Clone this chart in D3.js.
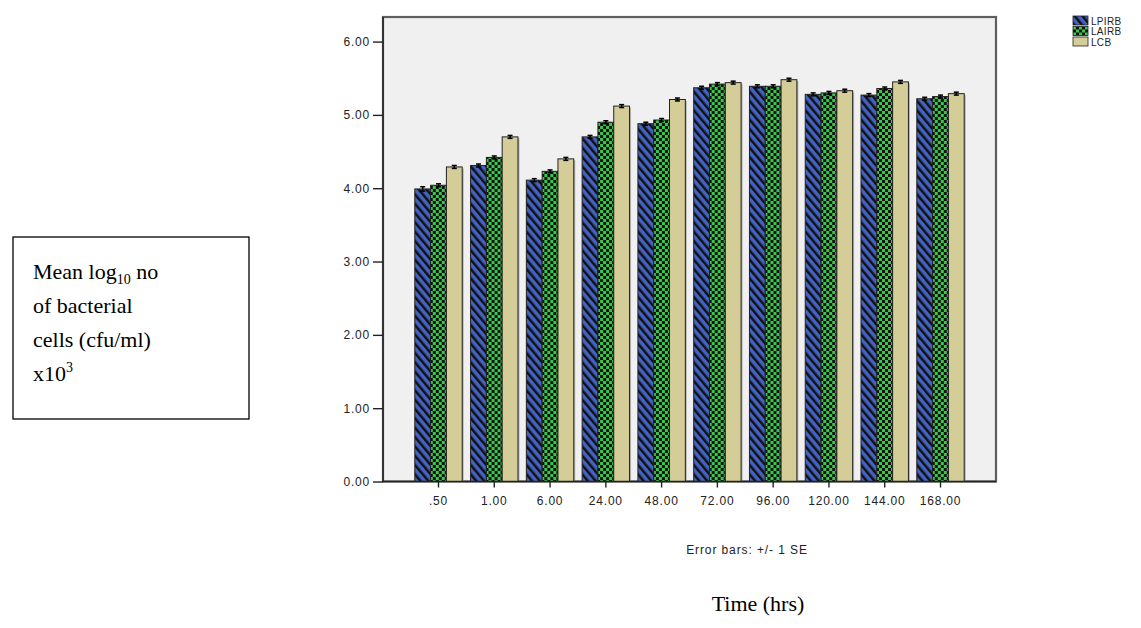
<!DOCTYPE html>
<html>
<head>
<meta charset="utf-8">
<script src="https://cdn.jsdelivr.net/npm/d3@7"></script>
<style>
  body { margin: 0; background: #fff; }
  svg { display: block; }
</style>
</head>
<body>
<svg id="chart" width="1141" height="628"></svg>
<script>
// time points (hrs)
var categories = [".50", "1.00", "6.00", "24.00", "48.00", "72.00", "96.00", "120.00", "144.00", "168.00"];
var seriesNames = ["LPIRB", "LAIRB", "LCB"];

// mean log10 values
var lpirb = [3.99, 4.31, 4.11, 4.70, 4.88, 5.37, 5.39, 5.28, 5.27, 5.22];
var lairb = [4.04, 4.42, 4.23, 4.90, 4.93, 5.42, 5.39, 5.30, 5.36, 5.25];
var lcb   = [4.29, 4.70, 4.40, 5.12, 5.21, 5.44, 5.48, 5.33, 5.45, 5.29];

// +/- 1 SE
var lpirbSE = [0.03, 0.02, 0.02, 0.02, 0.02, 0.02, 0.02, 0.02, 0.02, 0.02];
var lairbSE = [0.02, 0.02, 0.02, 0.02, 0.02, 0.02, 0.02, 0.02, 0.02, 0.02];
var lcbSE   = [0.02, 0.02, 0.02, 0.02, 0.02, 0.02, 0.02, 0.02, 0.02, 0.02];

var yTicks = [0, 1, 2, 3, 4, 5, 6];

var svg = d3.select("#chart");

var plotLeft = 383, plotRight = 996, plotTop = 17, plotBottom = 481.5;
var yMax = 6.335;
var sans = "Liberation Sans, Arial, sans-serif";

var x = d3.scaleBand()
    .domain(categories)
    .range([plotLeft, plotRight])
    .paddingInner(0.15)
    .paddingOuter(0.57);

var xs = d3.scaleBand()
    .domain(seriesNames)
    .range([0, x.bandwidth()]);

var y = d3.scaleLinear()
    .domain([0, yMax])
    .range([plotBottom, plotTop]);

// patterns
var defs = svg.append("defs");

var stripe = defs.append("pattern")
    .attr("id", "pStripe")
    .attr("patternUnits", "userSpaceOnUse")
    .attr("width", 6).attr("height", 6)
    .attr("patternTransform", "rotate(-40)");
stripe.append("rect").attr("width", 6).attr("height", 6).attr("fill", "#4363c4");
stripe.append("rect").attr("width", 2.5).attr("height", 6).attr("fill", "#111");

var check = defs.append("pattern")
    .attr("id", "pCheck")
    .attr("patternUnits", "userSpaceOnUse")
    .attr("width", 6).attr("height", 6);
check.append("rect").attr("width", 6).attr("height", 6).attr("fill", "#111");
check.append("rect").attr("width", 3).attr("height", 3).attr("fill", "#39c94a");
check.append("rect").attr("x", 3).attr("y", 3).attr("width", 3).attr("height", 3).attr("fill", "#39c94a");

var fills = { LPIRB: "url(#pStripe)", LAIRB: "url(#pCheck)", LCB: "#d4cd98" };

// plot background and frame
svg.append("rect")
    .attr("x", plotLeft).attr("y", plotTop)
    .attr("width", plotRight - plotLeft).attr("height", plotBottom - plotTop)
    .attr("fill", "#f0f0f0")
    .attr("stroke", "#5e5e5e")
    .attr("stroke-width", 2.2);

// build rows
var rows = categories.map(function(c, i) {
    return [
        { cat: c, name: "LPIRB", v: lpirb[i], se: lpirbSE[i] },
        { cat: c, name: "LAIRB", v: lairb[i], se: lairbSE[i] },
        { cat: c, name: "LCB", v: lcb[i], se: lcbSE[i] }
    ];
});

var groups = svg.append("g")
    .selectAll("g")
    .data(rows)
    .enter().append("g")
    .attr("transform", function(d) { return "translate(" + x(d[0].cat) + ",0)"; });

// shadow
groups.selectAll("rect.shadow")
    .data(function(d) { return d; })
    .enter().append("rect")
    .attr("class", "shadow")
    .attr("x", function(d) { return xs(d.name) + 1.5; })
    .attr("y", function(d) { return y(d.v) + 1.5; })
    .attr("width", xs.bandwidth())
    .attr("height", function(d) { return plotBottom - y(d.v) - 1.5; })
    .attr("fill", "#999")
    .attr("opacity", 0.7);

groups.selectAll("rect.bar")
    .data(function(d) { return d; })
    .enter().append("rect")
    .attr("class", "bar")
    .attr("x", function(d) { return xs(d.name); })
    .attr("y", function(d) { return y(d.v); })
    .attr("width", xs.bandwidth())
    .attr("height", function(d) { return plotBottom - y(d.v); })
    .attr("fill", function(d) { return fills[d.name]; })
    .attr("stroke", "#222")
    .attr("stroke-width", 1);

// error bars
var eb = groups.selectAll("g.err")
    .data(function(d) { return d; })
    .enter().append("g")
    .attr("class", "err")
    .attr("stroke", "#000")
    .attr("stroke-width", 1.5);
eb.append("line")
    .attr("x1", function(d) { return xs(d.name) + xs.bandwidth() / 2; })
    .attr("x2", function(d) { return xs(d.name) + xs.bandwidth() / 2; })
    .attr("y1", function(d) { return y(d.v - d.se); })
    .attr("y2", function(d) { return y(d.v + d.se); });
eb.append("line")
    .attr("x1", function(d) { return xs(d.name) + xs.bandwidth() / 2 - 2.5; })
    .attr("x2", function(d) { return xs(d.name) + xs.bandwidth() / 2 + 2.5; })
    .attr("y1", function(d) { return y(d.v + d.se); })
    .attr("y2", function(d) { return y(d.v + d.se); });
eb.append("line")
    .attr("x1", function(d) { return xs(d.name) + xs.bandwidth() / 2 - 2.5; })
    .attr("x2", function(d) { return xs(d.name) + xs.bandwidth() / 2 + 2.5; })
    .attr("y1", function(d) { return y(d.v - d.se); })
    .attr("y2", function(d) { return y(d.v - d.se); });

// axes
var yAxis = svg.append("g")
    .attr("transform", "translate(" + plotLeft + ",0)")
    .call(d3.axisLeft(y).tickValues(yTicks).tickFormat(d3.format(".2f")).tickSize(10).tickPadding(3));
var xAxis = svg.append("g")
    .attr("transform", "translate(0," + plotBottom + ")")
    .call(d3.axisBottom(x).tickSize(6).tickPadding(9));

[yAxis, xAxis].forEach(function(a) {
    a.select(".domain").attr("stroke", "#222").attr("stroke-width", 1.4);
    a.selectAll(".tick line").attr("stroke", "#222").attr("stroke-width", 1.4);
    a.selectAll("text")
        .attr("font-family", sans)
        .attr("font-size", 12)
        .attr("letter-spacing", 0.8)
        .attr("fill", "#222");
});
yAxis.select(".domain").attr("d", "M0," + plotTop + "V" + plotBottom);
xAxis.select(".domain").attr("d", "M" + plotLeft + ",0H" + plotRight);

// error bar note
svg.append("text")
    .attr("x", 747)
    .attr("y", 554)
    .attr("text-anchor", "middle")
    .attr("font-family", sans)
    .attr("font-size", 12)
    .attr("letter-spacing", 0.9)
    .attr("fill", "#222")
    .text("Error bars: +/- 1 SE");

// x title
svg.append("text")
    .attr("x", 758)
    .attr("y", 611)
    .attr("text-anchor", "middle")
    .attr("font-family", "Liberation Serif, Times New Roman, serif")
    .attr("font-size", 22)
    .attr("fill", "#000")
    .text("Time (hrs)");

// legend
var legend = svg.append("g")
    .attr("transform", "translate(1073,16)")
    .selectAll("g")
    .data(seriesNames)
    .enter().append("g")
    .attr("transform", function(d, i) { return "translate(0," + i * 10.5 + ")"; });
legend.append("rect")
    .attr("width", 15).attr("height", 9)
    .attr("fill", function(d) { return fills[d]; })
    .attr("stroke", "#222")
    .attr("stroke-width", 0.8);
legend.append("text")
    .attr("x", 18).attr("y", 8.5)
    .attr("font-family", sans)
    .attr("font-size", 10)
    .attr("letter-spacing", 0.3)
    .attr("fill", "#222")
    .text(function(d) { return d; });

// y title box
var box = svg.append("g");
box.append("rect")
    .attr("x", 13).attr("y", 237)
    .attr("width", 236).attr("height", 182)
    .attr("fill", "#fff")
    .attr("stroke", "#000")
    .attr("stroke-width", 1.3);
var lines = box.append("text")
    .attr("font-family", "Liberation Serif, Times New Roman, serif")
    .attr("font-size", 22)
    .attr("fill", "#000");
var t1 = lines.append("tspan").attr("x", 33).attr("y", 279);
t1.append("tspan").text("Mean log");
t1.append("tspan").attr("font-size", 14).attr("dy", 5).text("10");
t1.append("tspan").attr("dy", -5).text(" no");
lines.append("tspan").attr("x", 33).attr("y", 313).text("of bacterial");
lines.append("tspan").attr("x", 33).attr("y", 347).text("cells (cfu/ml)");
var t4 = lines.append("tspan").attr("x", 33).attr("y", 381);
t4.append("tspan").text("x10");
t4.append("tspan").attr("font-size", 14).attr("dy", -9).text("3");
</script>
</body>
</html>
